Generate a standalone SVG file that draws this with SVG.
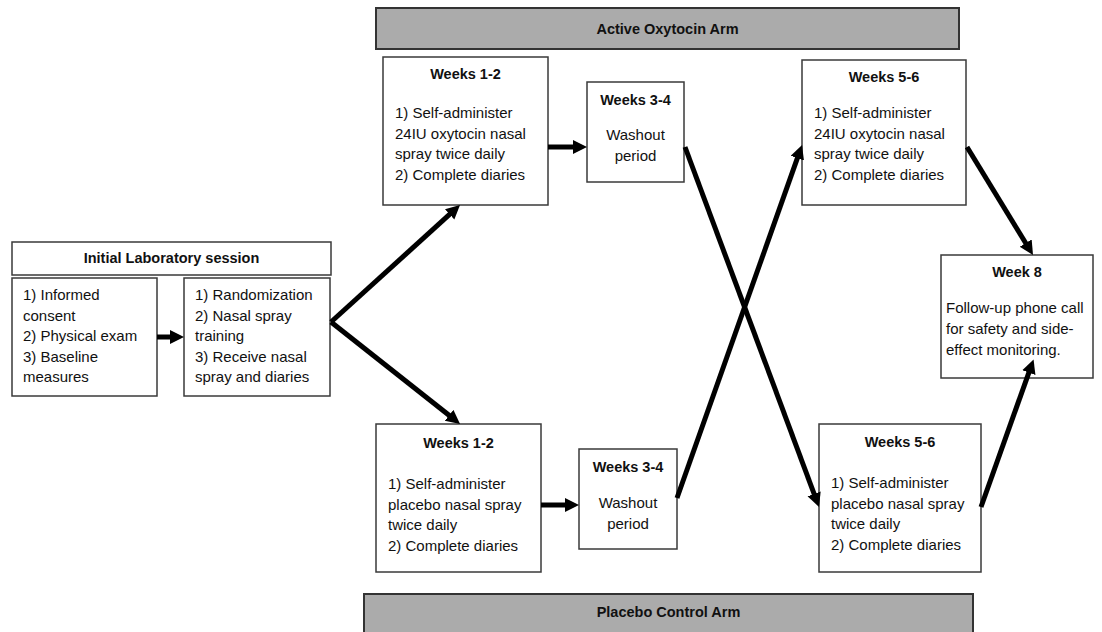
<svg xmlns="http://www.w3.org/2000/svg" width="1102" height="632" viewBox="0 0 1102 632">
<style>
.box{fill:#fff;stroke:#3a3a3a;stroke-width:1.5}
.banner{fill:#ababab;stroke:#333;stroke-width:2}
text{font-family:"Liberation Sans",Arial,sans-serif;fill:#111}
.t{font-size:14.5px;font-weight:bold;text-anchor:middle}
.b{font-size:15px}
.c{font-size:15px;text-anchor:middle}
.arr{stroke:#000;stroke-width:5;fill:none;marker-end:url(#ah)}
</style>
<defs>
<marker id="ah" markerUnits="userSpaceOnUse" markerWidth="16" markerHeight="16" refX="4" refY="7" orient="auto">
<path d="M0,0 L14,7 L0,14 z" fill="#000"/>
</marker>
</defs>
<rect width="1102" height="632" fill="#fff"/>

<g id="active-arm">
<rect class="banner" x="376" y="8" width="583" height="41"/>
<text class="t" x="667.5" y="34">Active Oxytocin Arm</text>
</g>
<g id="placebo-arm">
<rect class="banner" x="364" y="594" width="609" height="46"/>
<text class="t" x="668.5" y="617">Placebo Control Arm</text>
</g>

<g id="initial-session">
<rect class="box" x="12" y="242" width="319" height="33"/>
<text class="t" x="171.5" y="263">Initial Laboratory session</text>
</g>
<g id="consent">
<rect class="box" x="12" y="278" width="145" height="118"/>
<text class="b" x="23" y="300">1) Informed</text>
<text class="b" x="23" y="320.5">consent</text>
<text class="b" x="23" y="341">2) Physical exam</text>
<text class="b" x="23" y="361.5">3) Baseline</text>
<text class="b" x="23" y="382">measures</text>
</g>
<g id="randomization">
<rect class="box" x="184" y="278" width="146" height="118"/>
<text class="b" x="195" y="300">1) Randomization</text>
<text class="b" x="195" y="320.5">2) Nasal spray</text>
<text class="b" x="195" y="341">training</text>
<text class="b" x="195" y="361.5">3) Receive nasal</text>
<text class="b" x="195" y="382">spray and diaries</text>
</g>

<g id="ot-weeks12">
<rect class="box" x="383" y="57" width="165" height="148"/>
<text class="t" x="465.5" y="79">Weeks 1-2</text>
<text class="b" x="395" y="118">1) Self-administer</text>
<text class="b" x="395" y="138.5">24IU oxytocin nasal</text>
<text class="b" x="395" y="159">spray twice daily</text>
<text class="b" x="395" y="179.5">2) Complete diaries</text>
</g>
<g id="ot-weeks34">
<rect class="box" x="587" y="82" width="97" height="100"/>
<text class="t" x="635.5" y="105">Weeks 3-4</text>
<text class="c" x="635.5" y="140">Washout</text>
<text class="c" x="635.5" y="160.5">period</text>
</g>
<g id="ot-weeks56">
<rect class="box" x="802" y="60" width="164" height="145"/>
<text class="t" x="884" y="82">Weeks 5-6</text>
<text class="b" x="814" y="118">1) Self-administer</text>
<text class="b" x="814" y="138.5">24IU oxytocin nasal</text>
<text class="b" x="814" y="159">spray twice daily</text>
<text class="b" x="814" y="179.5">2) Complete diaries</text>
</g>

<g id="pl-weeks12">
<rect class="box" x="376" y="424" width="165" height="148"/>
<text class="t" x="458.5" y="448">Weeks 1-2</text>
<text class="b" x="388" y="489">1) Self-administer</text>
<text class="b" x="388" y="509.5">placebo nasal spray</text>
<text class="b" x="388" y="530">twice daily</text>
<text class="b" x="388" y="550.5">2) Complete diaries</text>
</g>
<g id="pl-weeks34">
<rect class="box" x="579" y="449" width="98" height="100"/>
<text class="t" x="628" y="472">Weeks 3-4</text>
<text class="c" x="628" y="508">Washout</text>
<text class="c" x="628" y="528.5">period</text>
</g>
<g id="pl-weeks56">
<rect class="box" x="819" y="424" width="162" height="148"/>
<text class="t" x="900" y="447">Weeks 5-6</text>
<text class="b" x="831" y="488">1) Self-administer</text>
<text class="b" x="831" y="508.5">placebo nasal spray</text>
<text class="b" x="831" y="529">twice daily</text>
<text class="b" x="831" y="549.5">2) Complete diaries</text>
</g>

<g id="week8">
<rect class="box" x="941" y="255" width="152" height="123"/>
<text class="t" x="1017" y="277">Week 8</text>
<text class="b" x="946" y="313">Follow-up phone call</text>
<text class="b" x="946" y="334">for safety and side-</text>
<text class="b" x="946" y="355">effect monitoring.</text>
</g>

<g id="connectors">
<line class="arr" x1="157" y1="337" x2="174" y2="337"/>
<line class="arr" x1="331" y1="322" x2="452.6" y2="211.7"/>
<line class="arr" x1="331" y1="322" x2="452.2" y2="417.8"/>
<line class="arr" x1="548" y1="147" x2="577" y2="147"/>
<line class="arr" x1="541" y1="505" x2="569" y2="505"/>
<line class="arr" x1="685" y1="147" x2="815.5" y2="497.6"/>
<line class="arr" x1="677" y1="498" x2="798.7" y2="154.4"/>
<line class="arr" x1="967" y1="147" x2="1027.8" y2="246.5"/>
<line class="arr" x1="981" y1="507" x2="1030.2" y2="368.8"/>
</g>
</svg>
